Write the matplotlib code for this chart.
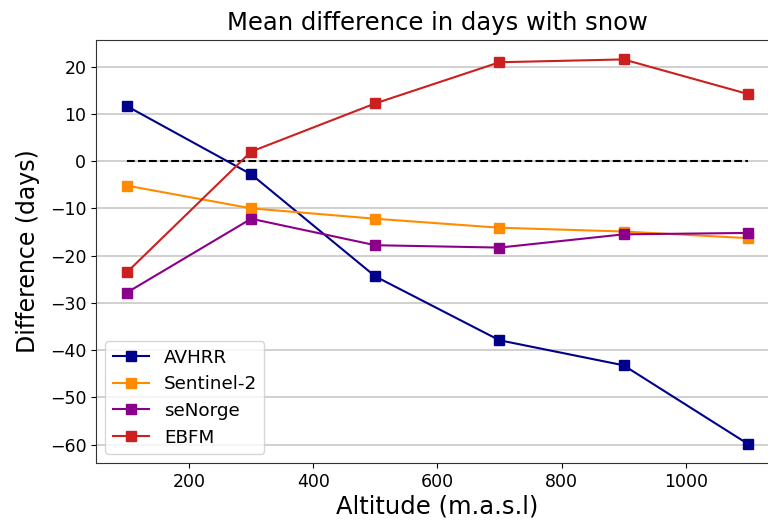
import matplotlib
matplotlib.use("Agg")
import matplotlib.pyplot as plt

altitude = [100, 300, 500, 700, 900, 1100]
avhrr = [11.6, -2.8, -24.4, -37.9, -43.2, -59.8]
sentinel2 = [-5.2, -10.0, -12.2, -14.1, -14.9, -16.3]
senorge = [-27.8, -12.2, -17.8, -18.3, -15.5, -15.2]
ebfm = [-23.5, 2.0, 12.2, 20.9, 21.5, 14.2]

series_names = ["AVHRR", "Sentinel-2", "seNorge", "EBFM"]
series_colors = ["#00008b", "#ff8c00", "#8b008b", "#cc1f1f"]

fig = plt.figure(figsize=(7.68, 5.22), dpi=100)
ax = fig.add_axes([0.125, 0.113, 0.889, 0.81])

for vals, name, col in zip([avhrr, sentinel2, senorge, ebfm], series_names, series_colors):
    ax.plot(altitude, vals, marker="s", color=col, label=name,
            linewidth=1.5, markersize=7)

ax.plot([altitude[0], altitude[-1]], [0, 0], linestyle="--", color="black",
        linewidth=1.5, zorder=1)

ax.set_yticks([20, 10, 0, -10, -20, -30, -40, -50, -60])
ax.set_xticks([200, 400, 600, 800, 1000])
ax.yaxis.grid(True, color="#c8c8c8", linewidth=1.2)
ax.set_axisbelow(True)
ax.tick_params(labelsize=12.5)
for s in ax.spines.values():
    s.set_color("#333333")

ax.set_title("Mean difference in days with snow", fontsize=17.5, pad=7)
ax.set_xlabel("Altitude (m.a.s.l)", fontsize=17.5, labelpad=3)
ax.set_ylabel("Difference (days)", fontsize=17, labelpad=7)
ax.legend(loc="lower left", fontsize=13.2, labelspacing=0.47)

fig.savefig("out.png", dpi=100)
